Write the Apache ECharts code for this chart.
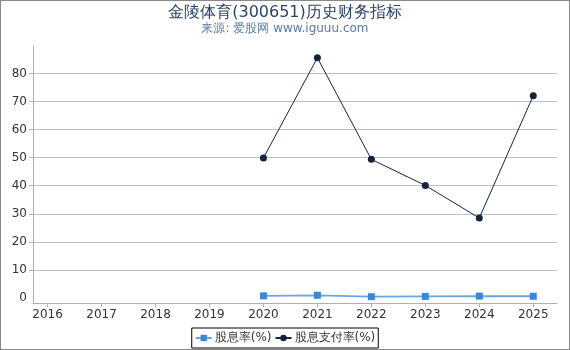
<!DOCTYPE html>
<html><head><meta charset="utf-8">
<script src="https://cdn.jsdelivr.net/npm/echarts@6/dist/echarts.min.js"></script>
<style>
html,body{margin:0;padding:0;background:#fff;}
#c{width:570px;height:350px;box-sizing:border-box;border:1px solid #888;}
</style></head>
<body><div id="c"></div>
<script>
var years = [2016, 2017, 2018, 2019, 2020, 2021, 2022, 2023, 2024, 2025];
var yTicks = [0, 10, 20, 30, 40, 50, 60, 70, 80];
var yGrid = [10, 20, 30, 40, 50, 60, 70, 80];
var dividendYield = [null, null, null, null, 0.75, 0.95, 0.45, 0.55, 0.65, 0.6];
var payoutRatio = [null, null, null, null, 49.9, 85.6, 49.4, 40.1, 28.5, 72.1];

function pairs(vals){ return years.map(function(y,i){ return [y, vals[i]]; }).filter(function(p){return p[1]!==null;}); }

var chart = echarts.init(document.getElementById('c'));
chart.setOption({
  animation: false,
  title: {
    text: '金陵体育(300651)历史财务指标',
    subtext: '来源: 爱股网 www.iguuu.com',
    left: 'center', top: -1, itemGap: 2,
    textStyle: {fontSize: 16, fontWeight: 'normal', color: '#2c4466', fontFamily: 'DejaVu Sans'},
    subtextStyle: {fontSize: 12, color: '#5b7aa5', fontFamily: 'DejaVu Sans'}
  },
  grid: {left: 32, right: 12, top: 45, bottom: 46},
  xAxis: {
    type: 'value', min: 2015.73, max: 2025.44,
    axisLine: {show: true, onZero: false, lineStyle: {color: '#b0b0b0'}},
    axisTick: {show: true, customValues: years, length: 4, lineStyle: {color: '#b0b0b0'}},
    axisLabel: {customValues: years, color: '#333', fontSize: 12, fontFamily: 'DejaVu Sans', margin: 6,
      formatter: function(v){return String(v);}},
    splitLine: {show: false}
  },
  yAxis: {
    type: 'value', min: -1.8, max: 89.8,
    axisLine: {show: true, lineStyle: {color: '#b0b0b0'}},
    axisTick: {show: true, customValues: yGrid, length: 4, lineStyle: {color: '#b0b0b0'}},
    axisLabel: {customValues: yTicks, color: '#333', fontSize: 12, fontFamily: 'DejaVu Sans', margin: 6},
    splitLine: {show: true, lineStyle: {color: '#c0c0c0', width: 1}}
  },
  legend: {
    bottom: 1, left: 'center',
    borderColor: '#000', borderWidth: 1, borderRadius: 0,
    padding: [4, 3], itemGap: 3, itemWidth: 16, itemHeight: 8,
    textStyle: {fontSize: 12, color: '#333', fontFamily: 'DejaVu Sans', padding: [0, 0, 0, -2]},
    data: ['股息率(%)', '股息支付率(%)']
  },
  series: [
    {name: '股息率(%)', type: 'line', data: pairs(dividendYield),
     symbol: 'rect', symbolSize: 7,
     itemStyle: {color: '#3a87d8'},
     lineStyle: {color: '#3a87d8', width: 1.8, opacity: 0.75}},
    {name: '股息支付率(%)', type: 'line', data: pairs(payoutRatio),
     symbol: 'circle', symbolSize: 7,
     itemStyle: {color: '#14243a'},
     lineStyle: {color: '#14243a', width: 1}}
  ]
});
</script></body></html>
